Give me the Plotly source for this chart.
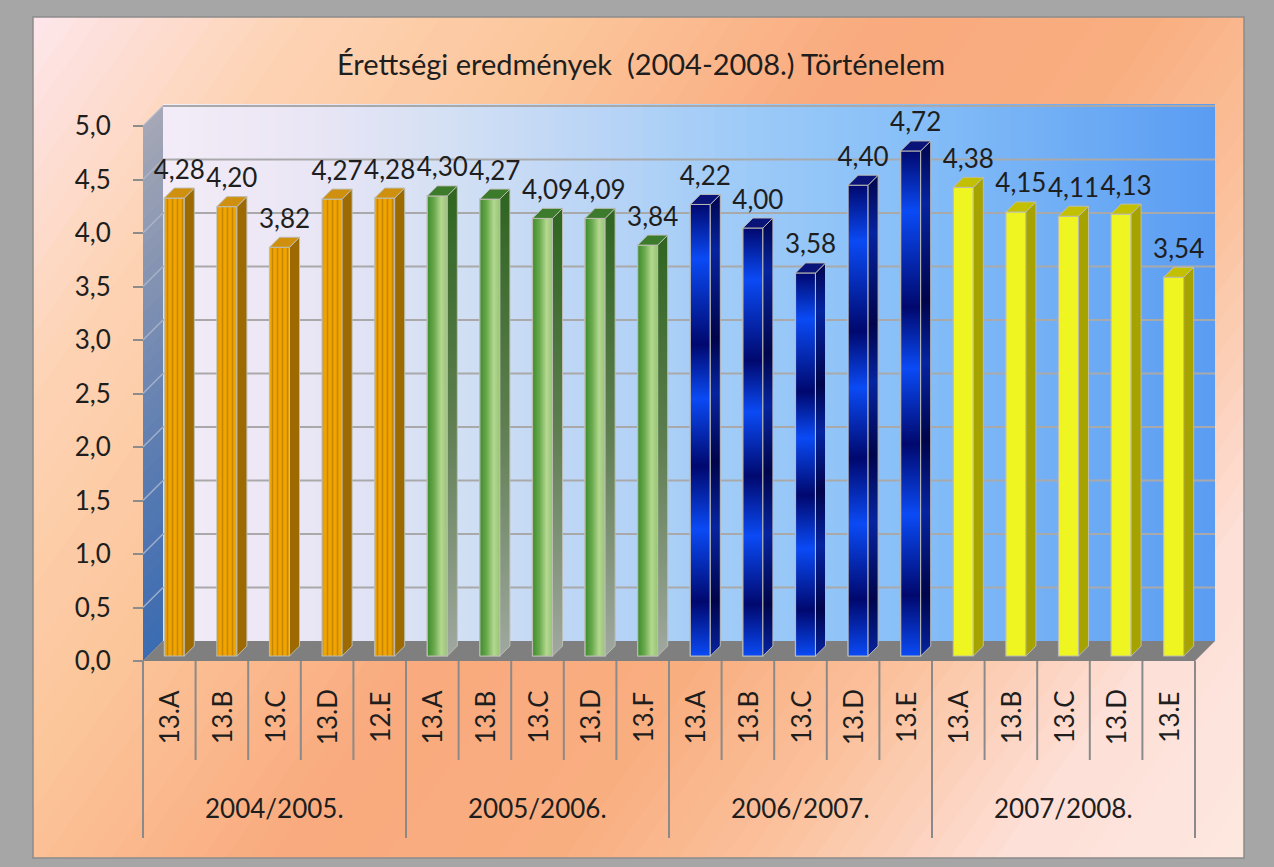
import plotly.graph_objects as go

# ---------------- data ----------------
TITLE = "Érettségi eredmények\u00a0 (2004-2008.) Történelem"
GROUPS = ["2004/2005.", "2005/2006.", "2006/2007.", "2007/2008."]
CLASSES_2004 = ["13.A", "13.B", "13.C", "13.D", "12.E"]
CLASSES_2005 = ["13.A", "13.B", "13.C", "13.D", "13.F"]
CLASSES_2006 = ["13.A", "13.B", "13.C", "13.D", "13.E"]
CLASSES_2007 = ["13.A", "13.B", "13.C", "13.D", "13.E"]
VALUES_2004 = [4.28, 4.20, 3.82, 4.27, 4.28]
VALUES_2005 = [4.30, 4.27, 4.09, 4.09, 3.84]
VALUES_2006 = [4.22, 4.00, 3.58, 4.40, 4.72]
VALUES_2007 = [4.38, 4.15, 4.11, 4.13, 3.54]
Y_TICK_VALUES = [0.0, 0.5, 1.0, 1.5, 2.0, 2.5, 3.0, 3.5, 4.0, 4.5, 5.0]
Y_TICK_LABELS = ["0,0", "0,5", "1,0", "1,5", "2,0", "2,5", "3,0", "3,5", "4,0", "4,5", "5,0"]

CLASSES = [CLASSES_2004, CLASSES_2005, CLASSES_2006, CLASSES_2007]
VALUES = [VALUES_2004, VALUES_2005, VALUES_2006, VALUES_2007]

# ---------------- geometry (pixels) ----------------
W, H = 1274, 867
X0, CW = 143.0, 52.6      # left edge of category axis, px per category
Y0, U = 661.0, 107.0      # px of value 0, px per unit
DEPTH_X, DEPTH_Y = 20.0, 20.0
FONT = "Lato"
TXT = "#1e1e1e"
OUTER = "#a6a6a6"


def dx(px):
    return (px - X0) / CW - 0.5


def dy(py):
    return (Y0 - py) / U


def path(pts):
    return "M " + " L ".join(f"{dx(x):.4f},{dy(y):.4f}" for x, y in pts) + " Z"


def h2r(h):
    h = h.lstrip("#")
    return tuple(int(h[i:i + 2], 16) for i in (0, 2, 4))


def interp(stops, t):
    for (t0, c0), (t1, c1) in zip(stops[:-1], stops[1:]):
        if t <= t1:
            f = 0 if t1 == t0 else (t - t0) / (t1 - t0)
            a, b = h2r(c0), h2r(c1)
            return "rgb(%d,%d,%d)" % tuple(round(a[k] + (b[k] - a[k]) * f) for k in range(3))
    return "rgb(%d,%d,%d)" % h2r(stops[-1][1])


def clip(poly, a, b, c):
    # keep a*x + b*y <= c
    out = []
    n = len(poly)
    for k in range(n):
        p, q = poly[k], poly[(k + 1) % n]
        fp = a * p[0] + b * p[1] - c
        fq = a * q[0] + b * q[1] - c
        if fp <= 0:
            out.append(p)
        if (fp < 0 < fq) or (fq < 0 < fp):
            s = fp / (fp - fq)
            out.append((p[0] + (q[0] - p[0]) * s, p[1] + (q[1] - p[1]) * s))
    return out


shapes = []

# ---- outer panel with diagonal gradient ----
PX0, PY0, PX1, PY1 = 33, 17, 1244, 858
panel = [(PX0, PY0), (PX1, PY0), (PX1, PY1), (PX0, PY1)]
nx, ny = 841.0, 600.0
nn = (nx * nx + ny * ny) ** 0.5
ddx, ddy = nx / nn, ny / nn
base_proj = PX0 * ddx + PY0 * ddy
L = (PX1 - PX0) * ddx + (PY1 - PY0) * ddy
panel_stops = [(0.0, "#fde6ec"), (0.15, "#fdd3b4"), (0.30, "#fcc59a"), (0.47, "#f9aa7e"),
               (0.62, "#f9ae80"), (0.74, "#fbc29e"), (0.87, "#fde0d8"), (1.0, "#fde8e0")]
NS = 80
for k in range(NS):
    t0, t1 = k / NS, (k + 1) / NS
    poly = clip(panel, -ddx, -ddy, -(base_proj + t0 * L))
    poly = clip(poly, ddx, ddy, base_proj + (t1 + 0.006) * L)
    if len(poly) >= 3:
        shapes.append(dict(type="path", path=path(poly), xref="x", yref="y", layer="below",
                           fillcolor=interp(panel_stops, (t0 + t1) / 2), line=dict(width=0)))
shapes.append(dict(type="rect", xref="x", yref="y", layer="below",
                   x0=dx(PX0), x1=dx(PX1), y0=dy(PY0), y1=dy(PY1),
                   line=dict(color="#8c8c8c", width=1.5), fillcolor="rgba(0,0,0,0)"))

# ---- back wall (horizontal gradient) ----
BX0, BX1 = X0 + DEPTH_X, X0 + CW * 20 + DEPTH_X
BY_TOP, BY_BOT = Y0 - 5 * U - DEPTH_Y - 2, Y0 - DEPTH_Y
wall_stops = [(0.0, "#f3ecf8"), (0.13, "#ebe6f5"), (0.27, "#d4e0f4"), (0.42, "#b8d4f6"),
              (0.56, "#9ccaf8"), (0.70, "#88c0f8"), (0.85, "#70aef5"), (1.0, "#5a9cf2")]
step = 8.0
x = BX0
while x < BX1 - 0.01:
    xe = min(x + step + 1.2, BX1)
    t = ((x + step / 2) - BX0) / (BX1 - BX0)
    shapes.append(dict(type="path", xref="x", yref="y", layer="below",
                       path=path([(x, BY_TOP), (xe, BY_TOP), (xe, BY_BOT), (x, BY_BOT)]),
                       fillcolor=interp(wall_stops, min(t, 1)), line=dict(width=0)))
    x += step

# ---- left side wall (vertical gradient) ----
side_stops = [(0.0, "#a6a8b6"), (0.3, "#8493b2"), (0.65, "#5a7cb2"), (1.0, "#3b6bb1")]
NSW = 40
yl_top, yl_bot = Y0 - 5 * U, Y0
yr_top, yr_bot = BY_TOP + 2, BY_BOT
for k in range(NSW):
    f0, f1 = k / NSW, min((k + 1.15) / NSW, 1)
    pts = [(X0, yl_top + f0 * (yl_bot - yl_top)), (BX0, yr_top + f0 * (yr_bot - yr_top)),
           (BX0, yr_top + f1 * (yr_bot - yr_top)), (X0, yl_top + f1 * (yl_bot - yl_top))]
    shapes.append(dict(type="path", xref="x", yref="y", layer="below", path=path(pts),
                       fillcolor=interp(side_stops, (k + 0.5) / NSW), line=dict(width=0)))

# ---- floor ----
FX1 = X0 + CW * 20
shapes.append(dict(type="path", xref="x", yref="y", layer="below",
                   path=path([(X0, Y0), (BX0, BY_BOT), (BX1, BY_BOT), (FX1, Y0)]),
                   fillcolor="#7f7f7f", line=dict(width=0)))

# ---- gridlines on walls ----
for v in Y_TICK_VALUES[1:]:
    yb = dy(BY_BOT) + v
    shapes.append(dict(type="line", xref="x", yref="y", layer="below",
                       x0=dx(BX0), x1=dx(BX1), y0=yb, y1=yb,
                       line=dict(color="#a9a9a9", width=2)))
    shapes.append(dict(type="line", xref="x", yref="y", layer="below",
                       x0=dx(X0), x1=dx(BX0), y0=v, y1=yb,
                       line=dict(color="rgba(175,185,205,0.85)", width=1.5)))

# ---- category separators ----
n_cat = sum(len(c) for c in CLASSES)
for k in range(n_cat + 1):
    is_group = (k % 5 == 0)
    shapes.append(dict(type="line", xref="x", yref="y", layer="below",
                       x0=k - 0.5, x1=k - 0.5, y0=0, y1=dy(838 if is_group else 760),
                       line=dict(color="#8a8a8a", width=2)))

# ---------------- bars ----------------
BASE = 5.0 / U
FL, FR = -5.0 / CW, 15.0 / CW
DXP, DYP = 10.0 / CW, 10.0 / U

STYLES = [
    dict(front="#f0a400", side="#9c6a00", top="#cf9010", pattern=True),
    dict(front="#6aaa4e", side="#4e7a40", top="#3c7a2c", pattern=False),
    dict(front="#0a30c0", side="#000a60", top="#0a1478", pattern=False),
    dict(front="#eef520", side="#a6a200", top="#c2c000", pattern=False),
]
EDGE = "rgba(190,190,180,0.95)"

BLUE_BRIGHT, BLUE_DARK = "#0a4af5", "#00086e"
BLUE_FRACS = [0.0, 0.12, 0.28, 0.42, 0.57, 0.69, 0.88, 1.0]
blue_scale = [[f, BLUE_BRIGHT if k % 2 == 0 else BLUE_DARK] for k, f in enumerate(BLUE_FRACS)]
blue_side_scale = [[f, "#0624a0" if k % 2 == 0 else "#00044a"] for k, f in enumerate(BLUE_FRACS)]
green_front_scale = [[0, "#3d8c2c"], [0.35, "#6aaa4e"], [0.7, "#b4d890"], [1, "#96c474"]]
green_side_scale = [[0, "#a0a8a0"], [0.5, "#5e7e50"], [1, "#2e6420"]]

traces_bar, traces_over = [], []
idx = 0
for g, (cls, vals) in enumerate(zip(CLASSES, VALUES)):
    st = STYLES[g]
    xs = list(range(idx, idx + len(vals)))
    idx += len(vals)
    marker = dict(color=st["front"], line=dict(color=EDGE, width=1.2))
    if st["pattern"]:
        marker["pattern"] = dict(shape="|", fgcolor="#a06600", bgcolor=st["front"],
                                 size=5, solidity=0.32)
    traces_bar.append(go.Bar(x=xs, y=vals, base=BASE, width=FR - FL, offset=FL,
                             marker=marker, name=GROUPS[g],
                             customdata=[[GROUPS[g], c] for c in cls],
                             hovertemplate="%{customdata[0]} %{customdata[1]}: %{y:.2f}<extra></extra>"))
    sx, sy, tx, ty = [], [], [], []
    for xi, v in zip(xs, vals):
        xl, xr = xi + FL, xi + FR
        b, t = BASE, BASE + v
        side = [(xr, b), (xr + DXP, b + DYP), (xr + DXP, t + DYP), (xr, t), (xr, b)]
        top = [(xl, t), (xl + DXP, t + DYP), (xr + DXP, t + DYP), (xr, t), (xl, t)]
        if g == 2:
            front = [(xl, b), (xr, b), (xr, t), (xl, t), (xl, b)]
            traces_over.append(go.Scatter(x=[p[0] for p in front], y=[p[1] for p in front],
                                          fill="toself", mode="lines",
                                          line=dict(color=EDGE, width=1.2),
                                          fillgradient=dict(type="vertical", start=b, stop=t,
                                                            colorscale=blue_scale),
                                          hoverinfo="skip"))
            traces_over.append(go.Scatter(x=[p[0] for p in side], y=[p[1] for p in side],
                                          fill="toself", mode="lines",
                                          line=dict(color=EDGE, width=1),
                                          fillgradient=dict(type="vertical", start=b, stop=t + DYP,
                                                            colorscale=blue_side_scale),
                                          hoverinfo="skip"))
        elif g == 1:
            front = [(xl, b), (xr, b), (xr, t), (xl, t), (xl, b)]
            traces_over.append(go.Scatter(x=[p[0] for p in front], y=[p[1] for p in front],
                                          fill="toself", mode="lines",
                                          line=dict(color=EDGE, width=1.2),
                                          fillgradient=dict(type="horizontal", start=xl, stop=xr,
                                                            colorscale=green_front_scale),
                                          hoverinfo="skip"))
            traces_over.append(go.Scatter(x=[p[0] for p in side], y=[p[1] for p in side],
                                          fill="toself", mode="lines",
                                          line=dict(color=EDGE, width=1),
                                          fillgradient=dict(type="vertical", start=b, stop=t + DYP,
                                                            colorscale=green_side_scale),
                                          hoverinfo="skip"))
        else:
            sx += [p[0] for p in side] + [None]
            sy += [p[1] for p in side] + [None]
        tx += [p[0] for p in top] + [None]
        ty += [p[1] for p in top] + [None]
    if g in (0, 3):
        traces_over.append(go.Scatter(x=sx, y=sy, fill="toself", fillcolor=st["side"], mode="lines",
                                      line=dict(color=EDGE, width=1), hoverinfo="skip"))
    traces_over.append(go.Scatter(x=tx, y=ty, fill="toself", fillcolor=st["top"], mode="lines",
                                  line=dict(color=EDGE, width=1), hoverinfo="skip"))
    # value labels
    traces_over.append(go.Scatter(
        x=[xi + 10.0 / CW for xi in xs], y=[BASE + v + DYP + 3.0 / U for v in vals],
        mode="text", text=[f"{v:.2f}".replace(".", ",") for v in vals],
        textposition="top center", textfont=dict(family=FONT, size=26, color=TXT),
        hoverinfo="skip", cliponaxis=False))

fig = go.Figure(traces_bar + traces_over)

# ---------------- annotations ----------------
annotations = [dict(text=TITLE, x=dx(641), y=dy(63), xref="x", yref="y", showarrow=False,
                    font=dict(family=FONT, size=29, color=TXT))]
idx = 0
for g, cls in enumerate(CLASSES):
    for c in cls:
        annotations.append(dict(text=c, x=idx, y=dy(717), xref="x", yref="y", showarrow=False,
                                textangle=-90, font=dict(family=FONT, size=26, color=TXT)))
        idx += 1
    annotations.append(dict(text=GROUPS[g], x=idx - len(cls) / 2 - 0.5, y=dy(808), xref="x", yref="y",
                            showarrow=False, font=dict(family=FONT, size=26, color=TXT)))

fig.update_layout(
    width=W, height=H, autosize=False,
    margin=dict(l=0, r=0, t=0, b=0, pad=0),
    paper_bgcolor=OUTER, plot_bgcolor=OUTER,
    showlegend=False, barmode="overlay",
    shapes=shapes, annotations=annotations,
    xaxis=dict(range=[dx(0), dx(W)], domain=[0, 1], visible=False, fixedrange=True),
    yaxis=dict(range=[dy(H), dy(0)], domain=[0, 1], anchor="free", position=X0 / W,
               tickvals=Y_TICK_VALUES, ticktext=Y_TICK_LABELS, ticks="outside", ticklen=10,
               tickwidth=2, tickcolor="#8c8c8c", showgrid=False, zeroline=False, showline=False,
               ticklabelstandoff=17, tickfont=dict(family=FONT, size=26, color=TXT),
               fixedrange=True),
    font=dict(family=FONT),
)

fig.write_html(
    "out.html",
    config={"displayModeBar": False},
    post_script="document.body.style.margin='0';document.body.style.padding='0';"
                "document.body.style.overflow='hidden';document.body.style.background='" + OUTER + "';",
)
